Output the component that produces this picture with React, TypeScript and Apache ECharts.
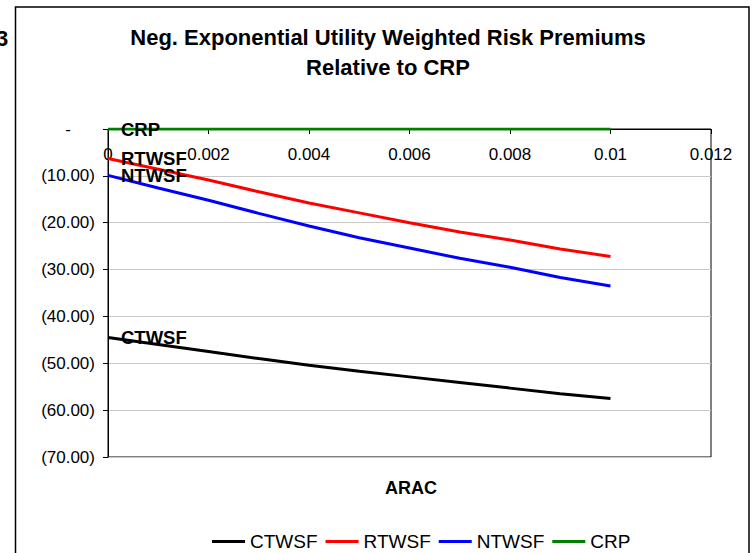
import React, { useEffect, useRef } from "react";
import * as echarts from "echarts";

const FONT = "'Liberation Sans', Arial, Helvetica, sans-serif";

const arac = [0, 0.001, 0.002, 0.003, 0.004, 0.005, 0.006, 0.007, 0.008, 0.009, 0.01];
const ctwsf = [-44.5, -46.0, -47.5, -49.0, -50.4, -51.7, -52.9, -54.1, -55.3, -56.5, -57.5];
const rtwsf = [-6.3, -8.6, -10.9, -13.4, -15.8, -17.9, -20.0, -22.0, -23.7, -25.6, -27.2];
const ntwsf = [-9.9, -12.6, -15.2, -18.0, -20.7, -23.2, -25.4, -27.6, -29.5, -31.7, -33.5];
const crp = [0, 0, 0, 0, 0, 0, 0, 0, 0, 0, 0];

const seriesNames = ["CTWSF", "RTWSF", "NTWSF", "CRP"];
const seriesValues = [ctwsf, rtwsf, ntwsf, crp];
const seriesColors = ["#000000", "#ff0000", "#0000ff", "#008000"];

const titleText = "Neg. Exponential Utility Weighted Risk Premiums\nRelative to CRP";
const xAxisTitle = "ARAC";

function fmtY(v: number): string {
  if (Math.abs(v) < 1e-9) return "{d|-}";
  const s = Math.abs(v).toFixed(2);
  return v < 0 ? "(" + s + ")" : s;
}

export default function App() {
  const ref = useRef<HTMLDivElement>(null);
  useEffect(() => {
    if (!ref.current) return;
    const chart = echarts.init(ref.current, undefined, { renderer: "svg" });
    const series = seriesNames.map((name, i) => ({
      name,
      type: "line",
      symbol: "none",
      showSymbol: false,
      z: i === 3 ? 5 : 3,
      lineStyle: { color: seriesColors[i], width: 3 },
      itemStyle: { color: seriesColors[i] },
      data: arac.map((x, j) => [x, seriesValues[i][j]]),
      markPoint: {
        silent: true,
        z: 10,
        data: [
          {
            coord: [arac[0], seriesValues[i][0]],
            symbol: "circle",
            symbolSize: 0,
            itemStyle: { color: "transparent" },
            label: {
              show: true,
              position: "right",
              distance: 13,
              formatter: name,
              fontFamily: FONT,
              fontSize: 18.5,
              fontWeight: "bold",
              color: "#000",
            },
          },
        ],
      },
    }));
    chart.setOption({
      animation: false,
      backgroundColor: "#ffffff",
      title: {
        text: titleText,
        left: 383,
        top: 17,
        textAlign: "center",
        textStyle: {
          fontFamily: FONT,
          fontSize: 22,
          fontWeight: "bold",
          lineHeight: 30,
          color: "#000",
        },
      },
      legend: {
        data: seriesNames,
        left: 207,
        top: 527,
        icon: "rect",
        itemWidth: 33,
        itemHeight: 3,
        itemGap: 8,
        textStyle: { fontFamily: FONT, fontSize: 19, color: "#000" },
      },
      grid: {
        left: 108,
        right: 42,
        top: 129,
        bottom: 96,
        show: true,
        borderColor: "#000",
        borderWidth: 1,
        backgroundColor: "transparent",
      },
      xAxis: {
        type: "value",
        position: "top",
        min: 0,
        max: 0.012,
        interval: 0.002,
        axisLine: { show: true, onZero: false, lineStyle: { color: "#000", width: 1 } },
        axisTick: { show: true, inside: true, length: 5, lineStyle: { color: "#000" } },
        axisLabel: {
          inside: true,
          margin: 17,
          fontFamily: FONT,
          fontSize: 17,
          color: "#000",
          formatter: (v: number) => (v === 0 ? "0" : String(parseFloat(v.toFixed(3)))),
        },
        splitLine: { show: false },
      },
      yAxis: {
        type: "value",
        min: -70,
        max: 0,
        interval: 10,
        axisLine: { show: true, lineStyle: { color: "#000", width: 1 } },
        axisTick: { show: true, inside: false, length: 5, lineStyle: { color: "#000" } },
        axisLabel: {
          margin: 13,
          fontFamily: FONT,
          fontSize: 17,
          color: "#000",
          formatter: fmtY,
          rich: {
            d: { fontFamily: FONT, fontSize: 17, color: "#000", padding: [0, 24, 0, 0] },
          },
        },
        splitLine: { show: true, lineStyle: { color: "#c8c8c8", width: 1 } },
      },
      graphic: [
        {
          type: "rect",
          silent: true,
          z: -1,
          shape: { x: 15.5, y: 7, width: 733.5, height: 600 },
          style: { fill: "none", stroke: "#000", lineWidth: 1.5 },
        },
        {
          type: "text",
          x: -4,
          y: 38,
          style: {
            text: "3",
            fontFamily: FONT,
            fontSize: 22,
            fontWeight: "bold",
            fill: "#000",
            textVerticalAlign: "middle",
          },
        },
        {
          type: "text",
          x: 411,
          y: 488,
          style: {
            text: xAxisTitle,
            fontFamily: FONT,
            fontSize: 18,
            fontWeight: "bold",
            fill: "#000",
            textAlign: "center",
            textVerticalAlign: "middle",
          },
        },
      ],
      series,
    });
    return () => chart.dispose();
  }, []);
  return (
    <div
      ref={ref}
      style={{ position: "fixed", left: 0, top: 0, width: 753, height: 553, background: "#fff" }}
    />
  );
}
